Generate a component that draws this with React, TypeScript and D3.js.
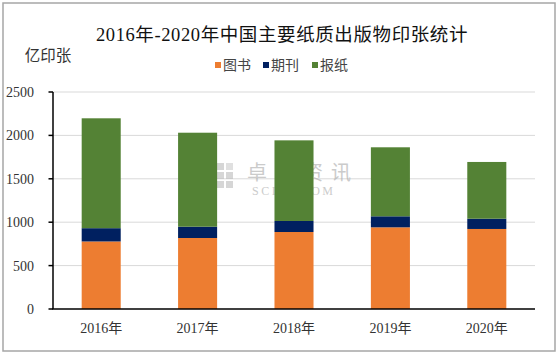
import React from "react";
import * as d3 from "d3";

const years = ["2016年", "2017年", "2018年", "2019年", "2020年"];
const books = [778, 818, 887, 941, 922];
const periodicals = [153, 130, 127, 127, 118];
const newspapers = [1266, 1083, 929, 795, 654];
const yTicks = [0, 500, 1000, 1500, 2000, 2500];
const seriesNames = ["图书", "期刊", "报纸"];
const colors = ["#ED7D31", "#002060", "#548235"];

const W = 560, H = 356;
const left = 53, right = 535, top = 92, bottom = 309;
const serif = "'Liberation Serif', 'Noto Sans CJK SC', serif";

export default function App() {
  const x = d3.scaleBand<string>().domain(years).range([left, right]).paddingInner(0.595).paddingOuter(0.2975);
  const y = d3.scaleLinear().domain([0, 2500]).range([bottom, top]);
  const rows = years.map((yr, i) => ({ year: yr, b: books[i], p: periodicals[i], n: newspapers[i] }));
  const stacked = d3.stack<any>().keys(["b", "p", "n"])(rows);

  const legendX = [215, 263, 312];

  return (
    <svg width={W} height={H} style={{ position: "absolute", left: 0, top: 0, background: "#fff" }}>
      <rect x={0} y={0} width={W} height={H} fill="#fff" />
      <rect x={3} y={3} width={552} height={348} fill="none" stroke="#a6a6a6" strokeWidth={1.5} />
      <text x={282} y={41} textAnchor="middle" fontFamily={serif} fontSize={18.5} letterSpacing={0.6} fill="#111">
        2016年-2020年中国主要纸质出版物印张统计
      </text>
      <text x={48} y={61} textAnchor="middle" fontFamily={serif} fontSize={15.5} fill="#333">亿印张</text>
      {seriesNames.map((s, i) => (
        <g key={s}>
          <rect x={legendX[i]} y={62} width={6} height={6} fill={colors[i]} />
          <text x={legendX[i] + 8} y={70} fontFamily={serif} fontSize={14} fill="#444">{s}</text>
        </g>
      ))}
      {yTicks.slice(1).map((t) => (
        <line key={t} x1={left} x2={right} y1={y(t)} y2={y(t)} stroke="#d9d9d9" strokeWidth={1} />
      ))}
      {/* watermark */}
      <g opacity={0.6}>
        <rect x={217} y={163} width={7} height={7} fill="#bbb" />
        <rect x={226} y={163} width={7} height={7} fill="#ccc" />
        <rect x={217} y={172} width={7} height={7} fill="#bbb" />
        <rect x={226} y={172} width={7} height={7} fill="#bbb" />
        <rect x={217} y={181} width={7} height={7} fill="#bbb" />
        <rect x={226} y={181} width={7} height={7} fill="#bbb" />
        <text x={247} y={180} fontFamily={serif} fontSize={20} letterSpacing={8} fill="#aaa">卓创资讯</text>
        <text x={252} y={195} fontFamily={serif} fontSize={12} letterSpacing={2.5} fill="#aaa">SCI99.COM</text>
      </g>
      {stacked.map((layer, li) => (
        <g key={li} fill={colors[li]}>
          {layer.map((d, i) => (
            <rect key={i} x={x(years[i])} width={x.bandwidth()} y={y(d[1])} height={y(d[0]) - y(d[1])} />
          ))}
        </g>
      ))}
      <line x1={left} x2={left} y1={top} y2={bottom} stroke="#000" strokeWidth={1.5} />
      <line x1={left - 0.75} x2={right} y1={bottom} y2={bottom} stroke="#000" strokeWidth={1.5} />
      {yTicks.map((t) => (
        <g key={t}>
          <line x1={left - 4.5} x2={left} y1={y(t)} y2={y(t)} stroke="#000" strokeWidth={1.5} />
          <text x={34} y={y(t) + 5} textAnchor="end" fontFamily={serif} fontSize={14} fill="#333">{t}</text>
        </g>
      ))}
      {years.map((yr) => (
        <text key={yr} x={(x(yr) as number) + x.bandwidth() / 2} y={333} textAnchor="middle" fontFamily={serif} fontSize={14} fill="#333">{yr}</text>
      ))}
    </svg>
  );
}
